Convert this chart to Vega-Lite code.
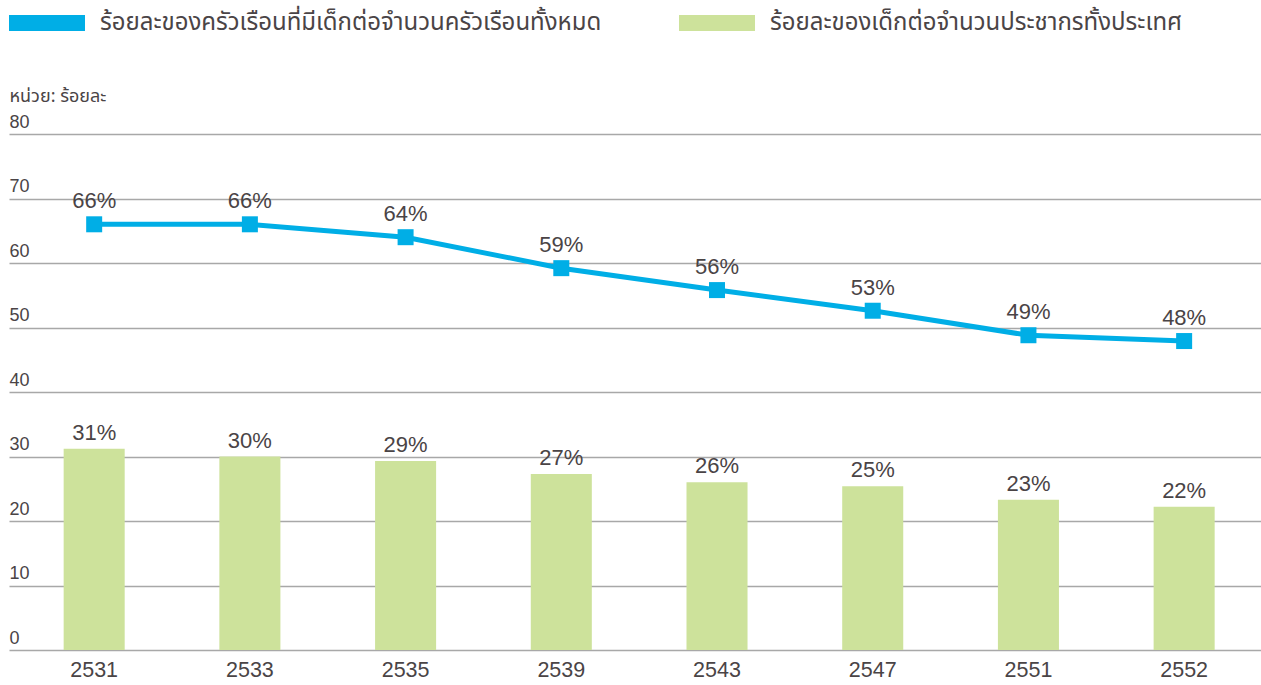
{
  "$schema": "https://vega.github.io/schema/vega-lite/v6.json",
  "width": 1253,
  "height": 516,
  "autosize": {"type": "none"},
  "padding": {"left": 9, "top": 134, "right": -1, "bottom": 35},
  "background": "white",
  "config": {
    "view": {"stroke": null},
    "font": "Liberation Sans",
    "text": {"font": "Liberation Sans"}
  },
  "data": {
    "values": [
      {"year": "2531", "household": 66.0, "hlabel": "66%", "population": 31.2, "plabel": "31%"},
      {"year": "2533", "household": 66.0, "hlabel": "66%", "population": 30.0, "plabel": "30%"},
      {"year": "2535", "household": 64.0, "hlabel": "64%", "population": 29.3, "plabel": "29%"},
      {"year": "2539", "household": 59.2, "hlabel": "59%", "population": 27.3, "plabel": "27%"},
      {"year": "2543", "household": 55.8, "hlabel": "56%", "population": 26.0, "plabel": "26%"},
      {"year": "2547", "household": 52.6, "hlabel": "53%", "population": 25.4, "plabel": "25%"},
      {"year": "2551", "household": 48.8, "hlabel": "49%", "population": 23.3, "plabel": "23%"},
      {"year": "2552", "household": 47.9, "hlabel": "48%", "population": 22.2, "plabel": "22%"}
    ]
  },
  "encoding": {
    "x": {
      "field": "year",
      "type": "nominal",
      "sort": null,
      "scale": {"paddingInner": 0, "paddingOuter": 0.0235, "align": 1},
      "axis": {
        "title": null,
        "labelAngle": 0,
        "labelFontSize": 21.5,
        "labelColor": "#4a4446",
        "labelPadding": 9,
        "domain": false,
        "ticks": false,
        "tickSize": 0,
        "grid": false
      }
    }
  },
  "layer": [
    {
      "mark": {"type": "bar", "width": {"band": 0.392}},
      "encoding": {
        "y": {
          "field": "population",
          "type": "quantitative",
          "scale": {"domain": [0, 80], "nice": false},
          "axis": {
            "title": "หน่วย: ร้อยละ",
            "titleAngle": 0,
            "titleAlign": "left",
            "titleBaseline": "alphabetic",
            "titleX": 0,
            "titleY": -33,
            "titleFontSize": 18,
            "titleFontWeight": "normal",
            "titleColor": "#4a4446",
            "titleFont": "Noto Sans Thai, Loma, Garuda, sans-serif",
            "values": [0, 10, 20, 30, 40, 50, 60, 70, 80],
            "labelAlign": "left",
            "labelBaseline": "alphabetic",
            "labelPadding": 0,
            "labelOffset": -7,
            "labelFontSize": 18,
            "labelColor": "#4a4446",
            "ticks": false,
            "tickSize": 0,
            "domain": false,
            "grid": true,
            "gridColor": "#a8a8a8",
            "gridWidth": 1.5
          }
        },
        "color": {
          "datum": "ร้อยละของเด็กต่อจำนวนประชากรทั้งประเทศ",
          "scale": {
            "domain": ["ร้อยละของครัวเรือนที่มีเด็กต่อจำนวนครัวเรือนทั้งหมด", "ร้อยละของเด็กต่อจำนวนประชากรทั้งประเทศ"],
            "range": ["#00aee6", "#cde29b"]
          },
          "legend": {
            "title": null,
            "orient": "none",
            "legendX": 0,
            "legendY": -149,
            "direction": "horizontal",
            "columns": 2,
            "gridAlign": "all",
            "columnPadding": 77,
            "symbolType": "M-1,-0.21H1V0.21H-1Z",
            "symbolSize": 5776,
            "symbolStrokeWidth": 0,
            "symbolOpacity": 1,
            "symbolOffset": 0,
            "labelFontSize": 24,
            "labelColor": "#4a4446",
            "labelFont": "Noto Sans Thai, Loma, Garuda, sans-serif",
            "labelOffset": 15,
            "labelLimit": 800
          }
        }
      }
    },
    {
      "mark": {"type": "text", "baseline": "alphabetic", "dy": -9, "fontSize": 22, "color": "#4a4446"},
      "encoding": {
        "y": {"field": "population", "type": "quantitative"},
        "text": {"field": "plabel"}
      }
    },
    {
      "mark": {"type": "line", "color": "#00aee6", "strokeWidth": 5},
      "encoding": {
        "y": {"field": "household", "type": "quantitative"}
      }
    },
    {
      "mark": {"type": "point", "shape": "square", "filled": true, "size": 256, "color": "#00aee6", "opacity": 1},
      "encoding": {
        "y": {"field": "household", "type": "quantitative"}
      }
    },
    {
      "mark": {"type": "text", "baseline": "alphabetic", "dy": -16, "fontSize": 22, "color": "#4a4446"},
      "encoding": {
        "y": {"field": "household", "type": "quantitative"},
        "text": {"field": "hlabel"}
      }
    }
  ]
}
